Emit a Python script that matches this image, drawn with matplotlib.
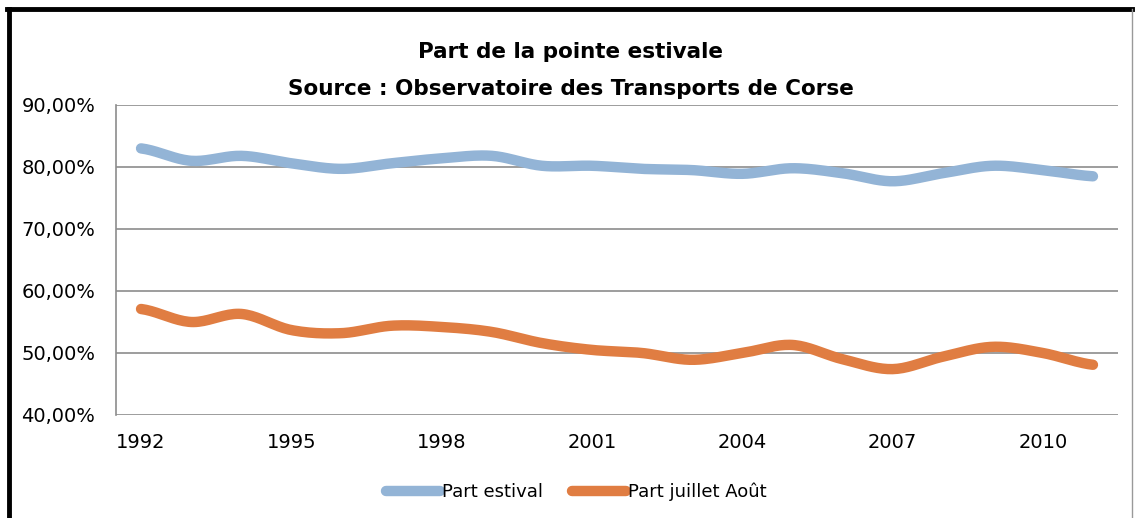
import numpy as np
import matplotlib.pyplot as plt
from matplotlib.lines import Line2D

# données
annees = list(range(1992, 2012))
part_estival = [83.0, 81.0, 81.8, 80.6, 79.7, 80.6, 81.4, 81.8, 80.2, 80.2,
                79.7, 79.5, 78.9, 79.8, 79.0, 77.7, 79.0, 80.2, 79.5, 78.5]
part_juillet_aout = [57.1, 55.0, 56.3, 53.7, 53.2, 54.4, 54.2, 53.4, 51.6, 50.5,
                     50.0, 48.9, 50.0, 51.3, 49.0, 47.4, 49.4, 51.0, 50.0, 48.1]
ticks_annees = [1992, 1995, 1998, 2001, 2004, 2007, 2010]


def lisser(y, n=20):
    # courbe lissée façon Excel (Catmull-Rom) entre les points
    y = np.asarray(y, dtype=float)
    p = np.concatenate([[y[0]], y, [y[-1]]])
    xs, ys = [], []
    t = np.linspace(0, 1, n, endpoint=False)
    for i in range(len(y) - 1):
        p0, p1, p2, p3 = p[i], p[i + 1], p[i + 2], p[i + 3]
        yy = 0.5 * ((2 * p1) + (-p0 + p2) * t + (2 * p0 - 5 * p1 + 4 * p2 - p3) * t ** 2
                    + (-p0 + 3 * p1 - 3 * p2 + p3) * t ** 3)
        xs.extend(i + t)
        ys.extend(yy)
    xs.append(len(y) - 1)
    ys.append(y[-1])
    return np.array(xs), np.array(ys)


plt.rcParams['font.family'] = ['DejaVu Sans']

fig = plt.figure(figsize=(11.41, 5.18), dpi=100)
ax = fig.add_axes([116 / 1141, 1 - 415 / 518, 1002 / 1141, 310 / 518])

bleu = '#93B4D6'
orange = '#E07D42'

x1, y1 = lisser(part_estival)
x2, y2 = lisser(part_juillet_aout)
ax.plot(x1, y1, color=bleu, lw=7.5, solid_capstyle='round', label='Part estival')
ax.plot(x2, y2, color=orange, lw=7.5, solid_capstyle='round', label='Part juillet Août')

ax.set_xlim(-0.5, len(annees) - 0.5)
ax.set_ylim(40, 90)
ax.set_yticks(range(40, 91, 10))
ax.set_yticklabels([f'{v},00%' for v in range(40, 91, 10)], fontsize=14)
ax.set_xticks([annees.index(a) for a in ticks_annees])
ax.set_xticklabels([str(a) for a in ticks_annees], fontsize=14)
ax.tick_params(length=0)
ax.tick_params(axis='x', pad=13)
ax.tick_params(axis='y', pad=15)

ax.grid(axis='y', color='#8C8C8C', lw=1.2)
ax.set_axisbelow(True)
for s in ['top', 'right', 'bottom']:
    ax.spines[s].set_visible(False)
ax.spines['left'].set_color('#8C8C8C')
ax.spines['left'].set_linewidth(1.2)

fig.text(0.5, 1 - 52 / 518, 'Part de la pointe estivale', ha='center', va='center',
         fontsize=15.5, fontweight='bold')
fig.text(0.5, 1 - 89 / 518, 'Source : Observatoire des Transports de Corse', ha='center',
         va='center', fontsize=15.5, fontweight='bold')

fig.legend(loc='center', bbox_to_anchor=(0.505, 1 - 492 / 518), ncol=2, frameon=False,
           fontsize=13, handlelength=3.0, handletextpad=0.1, columnspacing=1.6)

# cadre autour du graphique
fig.add_artist(Line2D([9 / 1141, 9 / 1141], [0, 1 - 9 / 518], color='black', lw=3.5,
                      transform=fig.transFigure))
fig.add_artist(Line2D([7 / 1141, 1132 / 1141], [1 - 9 / 518, 1 - 9 / 518], color='black',
                      lw=3.5, transform=fig.transFigure))
fig.add_artist(Line2D([1132 / 1141, 1132 / 1141], [0, 1 - 9 / 518], color='#999999', lw=1,
                      transform=fig.transFigure))

fig.savefig('out.png', dpi=100)
